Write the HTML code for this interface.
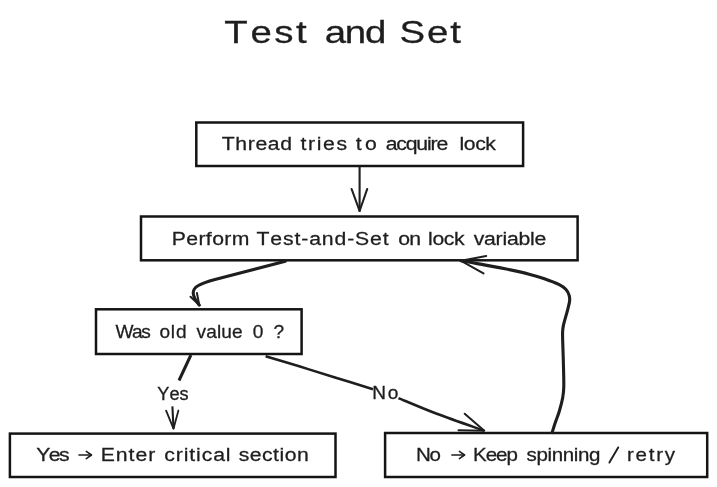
<!DOCTYPE html>
<html>
<head>
<meta charset="utf-8">
<style>
html,body{margin:0;padding:0;background:#ffffff;}
body{width:717px;height:487px;overflow:hidden;}
svg{display:block;will-change:transform;}
text{font-family:"Liberation Sans",sans-serif;fill:#1e1e1e;stroke:#1e1e1e;stroke-width:0.3px;font-kerning:none;font-variant-ligatures:none;}
text.t{stroke-width:0.3px;}
</style>
</head>
<body>
<svg width="717" height="487" viewBox="0 0 717 487">
<rect x="0" y="0" width="717" height="487" fill="#ffffff"/>
<g fill="none" stroke="#141414" stroke-width="2.5" stroke-linejoin="miter">
<rect x="196.3" y="122.5" width="326.8" height="43.5"/>
<rect x="141.0" y="216.5" width="436.6" height="43.8"/>
<rect x="96.0" y="309.3" width="205.6" height="44.7"/>
<rect x="9.9" y="433.6" width="325.6" height="43.4"/>
<rect x="385.1" y="433.0" width="322.1" height="44.0"/>
</g>
<path d="M359.60 167.00 L359.60 211.00" fill="none" stroke="#1e1e1e" stroke-width="2.1" stroke-linecap="round" stroke-linejoin="round"/>
<path d="M351.60 189.00 L359.60 211.00 L367.20 189.00" fill="none" stroke="#1e1e1e" stroke-width="2.1" stroke-linecap="round" stroke-linejoin="round"/>
<path d="M285.3 261.2 L215 279.5 C200 283.5 193 287 193.2 293 C193.5 298 197 302 199.3 305.1" fill="none" stroke="#1e1e1e" stroke-width="3.1" stroke-linecap="round" stroke-linejoin="round"/>
<path d="M190.50 296.80 L199.30 305.10 L196.90 292.90" fill="none" stroke="#1e1e1e" stroke-width="2.0" stroke-linecap="round" stroke-linejoin="round"/>
<path d="M190.90 355.00 L179.00 380.50" fill="none" stroke="#1e1e1e" stroke-width="3.0" stroke-linecap="butt" stroke-linejoin="round"/>
<path d="M172.40 406.40 L173.50 428.70" fill="none" stroke="#1e1e1e" stroke-width="2.1" stroke-linecap="butt" stroke-linejoin="round"/>
<path d="M166.10 410.70 L173.50 428.70 L178.40 410.50" fill="none" stroke="#1e1e1e" stroke-width="1.8" stroke-linecap="round" stroke-linejoin="round"/>
<path d="M265.60 356.20 C271.33 357.93 288.43 363.05 300.00 366.60 C311.57 370.15 322.83 373.73 335.00 377.50 C347.17 381.27 366.67 387.25 373.00 389.20" fill="none" stroke="#1e1e1e" stroke-width="2.6" stroke-linecap="butt" stroke-linejoin="round"/>
<path d="M398.50 398.10 C404.88 400.72 422.50 408.37 436.80 413.80 C451.10 419.23 476.38 427.88 484.30 430.70" fill="none" stroke="#1e1e1e" stroke-width="2.6" stroke-linecap="butt" stroke-linejoin="round"/>
<path d="M464.70 413.70 L484.30 430.70 L458.50 430.20" fill="none" stroke="#1e1e1e" stroke-width="2.0" stroke-linecap="round" stroke-linejoin="round"/>
<path d="M552.10 432.60 C552.63 430.92 554.10 426.07 555.30 422.50 C556.50 418.93 558.07 415.33 559.30 411.20 C560.53 407.07 561.95 401.83 562.70 397.70 C563.45 393.57 563.68 392.05 563.80 386.40 C563.92 380.75 563.58 371.32 563.40 363.80 C563.22 356.28 562.83 346.60 562.70 341.30 C562.57 336.00 562.48 334.65 562.60 332.00 C562.72 329.35 562.95 327.70 563.40 325.40 C563.85 323.10 564.58 320.83 565.30 318.20 C566.02 315.57 566.98 312.47 567.70 309.60 C568.42 306.73 569.37 303.40 569.60 301.00 C569.83 298.60 569.70 297.12 569.10 295.20 C568.50 293.28 567.72 291.30 566.00 289.50 C564.28 287.70 562.40 286.20 558.80 284.40 C555.20 282.60 549.20 280.37 544.40 278.70 C539.60 277.03 536.57 276.05 530.00 274.40 C523.43 272.75 513.78 270.60 505.00 268.80 C496.22 267.00 484.62 264.93 477.30 263.60 C469.98 262.27 463.80 261.27 461.10 260.80" fill="none" stroke="#1e1e1e" stroke-width="3.1" stroke-linecap="round" stroke-linejoin="round"/>
<path d="M486.20 256.00 L461.10 260.80 L483.50 273.40" fill="none" stroke="#1e1e1e" stroke-width="2.0" stroke-linecap="round" stroke-linejoin="round"/>
<path d="M79.00 455.00 L91.40 455.00" fill="none" stroke="#1e1e1e" stroke-width="1.6" stroke-linecap="round" stroke-linejoin="round"/>
<path d="M86.30 451.40 L91.40 455.00 L86.30 458.60" fill="none" stroke="#1e1e1e" stroke-width="1.6" stroke-linecap="round" stroke-linejoin="round"/>
<path d="M451.90 455.00 L464.50 455.00" fill="none" stroke="#1e1e1e" stroke-width="1.6" stroke-linecap="round" stroke-linejoin="round"/>
<path d="M459.40 451.40 L464.50 455.00 L459.40 458.60" fill="none" stroke="#1e1e1e" stroke-width="1.6" stroke-linecap="round" stroke-linejoin="round"/>
<path d="M609.40 462.60 L618.20 447.40" fill="none" stroke="#1e1e1e" stroke-width="1.9" stroke-linecap="round" stroke-linejoin="round"/>
<text transform="matrix(1.2000 0 0 0.96 224.34 43)" font-size="32" letter-spacing="2.156" class="t">Test</text>
<text transform="matrix(1.2000 0 0 0.96 324.67 43)" font-size="32" letter-spacing="-0.984" class="t">and</text>
<text transform="matrix(1.2000 0 0 0.96 399.56 43)" font-size="32" letter-spacing="1.536" class="t">Set</text>
<text transform="matrix(1.0600 0 0 0.92 221.82 150.2)" font-size="20" letter-spacing="0.579">Thread</text>
<text transform="matrix(1.0600 0 0 0.92 300.48 150.2)" font-size="20" letter-spacing="1.565">tries</text>
<text transform="matrix(1.0600 0 0 0.92 355.85 150.2)" font-size="20" letter-spacing="3.000">to</text>
<text transform="matrix(1.0600 0 0 0.92 385.70 150.2)" font-size="20" letter-spacing="-1.099">acquire</text>
<text transform="matrix(1.0600 0 0 0.92 459.47 150.2)" font-size="20" letter-spacing="-0.378">lock</text>
<text transform="matrix(1.0600 0 0 0.92 171.66 244.5)" font-size="20" letter-spacing="0.385">Perform</text>
<text transform="matrix(1.0600 0 0 0.92 256.52 244.5)" font-size="20" letter-spacing="0.831">Test-and-Set</text>
<text transform="matrix(1.0600 0 0 0.92 398.31 244.5)" font-size="20" letter-spacing="-0.862">on</text>
<text transform="matrix(1.0600 0 0 0.92 428.07 244.5)" font-size="20" letter-spacing="-0.347">lock</text>
<text transform="matrix(1.0600 0 0 0.92 473.63 244.5)" font-size="20" letter-spacing="-0.192">variable</text>
<text transform="matrix(0.9551 0 0 0.92 115.42 338)" font-size="20" letter-spacing="-1.429">Was</text>
<text transform="matrix(0.9551 0 0 0.92 159.40 338)" font-size="20" letter-spacing="0.860">old</text>
<text transform="matrix(0.9551 0 0 0.92 196.53 338)" font-size="20" letter-spacing="0.118">value</text>
<text transform="matrix(0.9551 0 0 0.92 252.84 338)" font-size="20">0</text>
<text transform="matrix(0.9551 0 0 0.92 273.45 338)" font-size="20">?</text>
<text transform="matrix(1.0600 0 0 0.92 36.32 461.4)" font-size="20" letter-spacing="-1.500">Yes</text>
<text transform="matrix(1.0600 0 0 0.92 100.76 461.4)" font-size="20" letter-spacing="0.925">Enter</text>
<text transform="matrix(1.0600 0 0 0.92 164.30 461.4)" font-size="20" letter-spacing="0.842">critical</text>
<text transform="matrix(1.0600 0 0 0.92 238.71 461.4)" font-size="20" letter-spacing="0.455">section</text>
<text transform="matrix(1.0280 0 0 0.92 416.11 461.4)" font-size="20" letter-spacing="-1.393">No</text>
<text transform="matrix(1.0280 0 0 0.92 473.01 461.4)" font-size="20" letter-spacing="-0.994">Keep</text>
<text transform="matrix(1.0280 0 0 0.92 526.53 461.4)" font-size="20" letter-spacing="-0.360">spinning</text>
<text transform="matrix(1.0280 0 0 0.92 626.93 461.4)" font-size="20" letter-spacing="1.723">retry</text>
<text transform="matrix(1.0110 0 0 1.0 157.30 399.6)" font-size="18">Yes</text>
<text transform="matrix(1.0600 0 0 1.0 372.23 399.2)" font-size="18" letter-spacing="1.581">No</text>
</svg>
</body>
</html>
